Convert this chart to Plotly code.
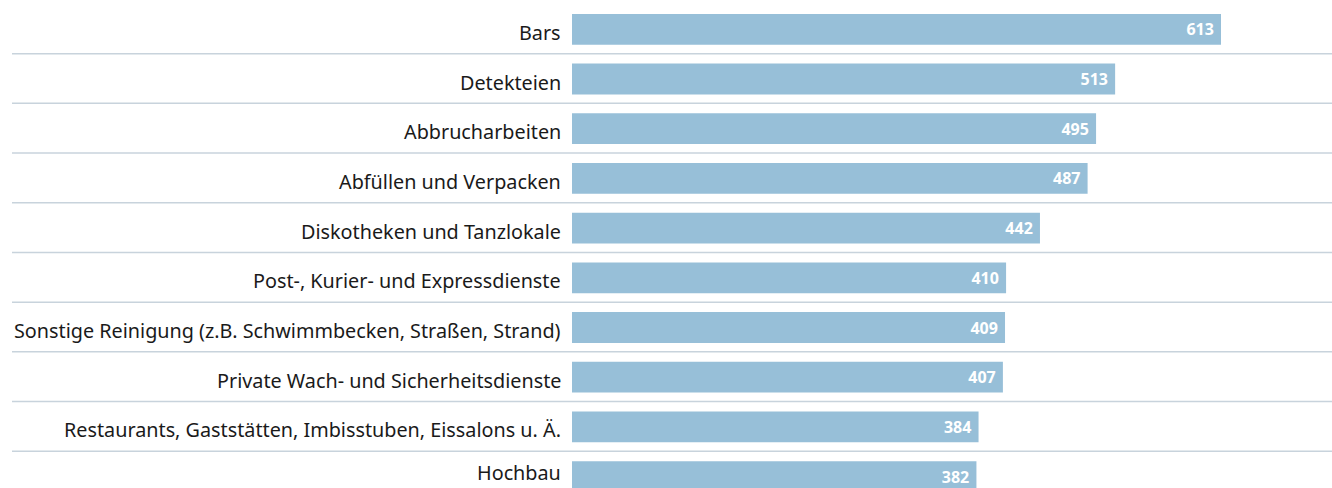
import plotly.graph_objects as go

categories = [
    "Bars",
    "Detekteien",
    "Abbrucharbeiten",
    "Abfüllen und Verpacken",
    "Diskotheken und Tanzlokale",
    "Post-, Kurier- und Expressdienste",
    "Sonstige Reinigung (z.B. Schwimmbecken, Straßen, Strand)",
    "Private Wach- und Sicherheitsdienste",
    "Restaurants, Gaststätten, Imbisstuben, Eissalons u. Ä.",
    "Hochbau",
]
values = [613, 513, 495, 487, 442, 410, 409, 407, 384, 382]

W, H = 1332, 488
bar_x0_px = 572
px_per_unit = 649 / 613
row_px = 49.7
first_center_px = 29.3

positions = list(range(len(categories)))

fig = go.Figure()
fig.add_trace(go.Bar(
    x=values,
    y=positions,
    orientation="h",
    marker=dict(color="#97bfd8", line=dict(width=0)),
    width=0.62,
    text=[str(v) + " " for v in values],
    textposition="inside",
    insidetextanchor="end",
    textangle=0,
    textfont=dict(family="Noto Sans", size=16, color="#ffffff", weight="bold"),
    cliponaxis=False,
    hoverinfo="skip",
))

# category labels
n = len(categories)
label_font = dict(family="Noto Sans", size=19.8, color="#1a1a1a")
for i, c in enumerate(categories):
    if i < n - 1:
        fig.add_annotation(
            x=0, y=i, xref="x", yref="y", text=c, showarrow=False,
            xanchor="right", yanchor="middle", xshift=-9, yshift=-3,
            font=label_font,
        )
    else:
        # last row is cut by the bottom edge: keep its label fully inside
        fig.add_annotation(
            x=0, y=0, xref="x", yref="paper", text=c, showarrow=False,
            xanchor="right", yanchor="bottom", xshift=-9,
            font=label_font,
        )

# separators between rows
for i in range(n - 1):
    fig.add_shape(
        type="line", xref="paper", yref="y",
        x0=12 / W, x1=1, y0=i + 0.49, y1=i + 0.49,
        line=dict(color="#c8d3dc", width=1.5), layer="below",
    )

x_min = -bar_x0_px / px_per_unit
x_max = (W - bar_x0_px) / px_per_unit
y_top = -first_center_px / row_px
y_bot = (H - first_center_px) / row_px

fig.update_layout(
    width=W, height=H,
    margin=dict(l=0, r=0, t=0, b=0),
    paper_bgcolor="white", plot_bgcolor="white",
    showlegend=False,
    hovermode=False,
    xaxis=dict(range=[x_min, x_max], visible=False, fixedrange=True),
    yaxis=dict(range=[y_bot, y_top], visible=False, fixedrange=True),
    uniformtext=dict(minsize=8, mode="show"),
)

fig.write_html(
    "out.html",
    config={"displayModeBar": False, "staticPlot": True},
    post_script="document.body.style.margin='0px';",
)
